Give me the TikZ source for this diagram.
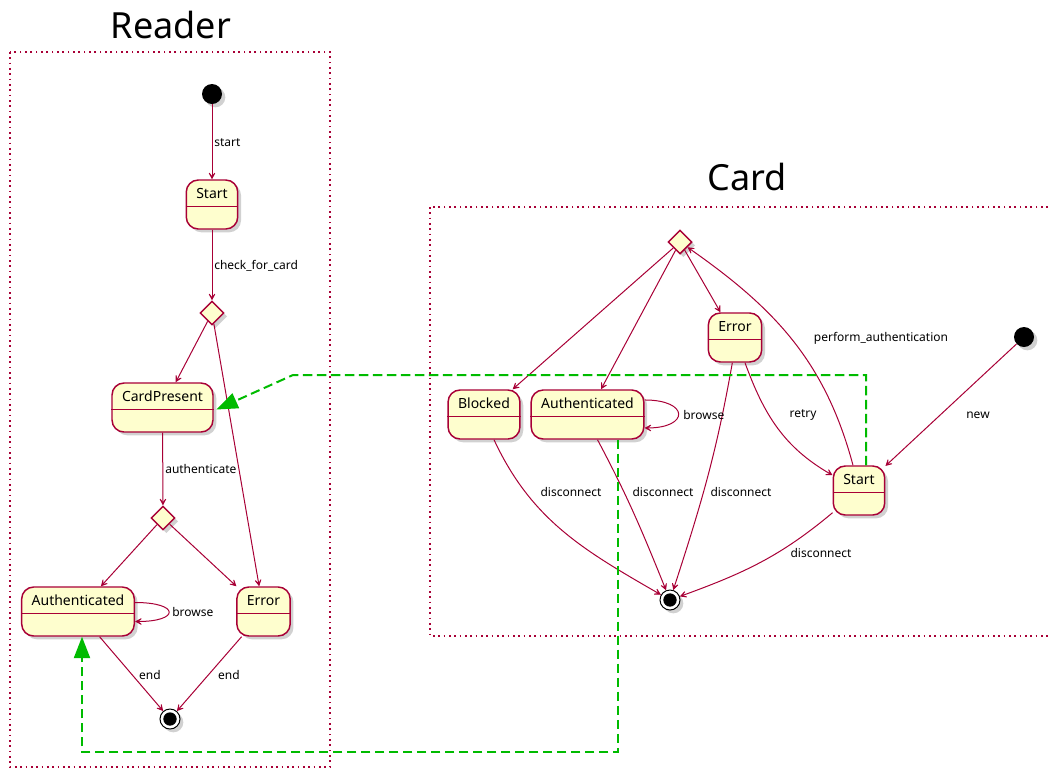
\documentclass[tikz,border=0pt]{standalone}
\usepackage{fontspec}
\setmainfont{Noto Sans}
\usetikzlibrary{arrows.meta,shapes.geometric,shadows}
\definecolor{umlred}{HTML}{A80036}
\definecolor{umlfill}{HTML}{FEFECE}
\definecolor{umlgreen}{HTML}{00BB00}

\begin{document}
\begin{tikzpicture}[x=0.75pt,y=-0.75pt,
	castshadow/.style={drop shadow={shadow xshift=2.5pt,shadow yshift=-2.5pt,opacity=.3,fill=black!60}},
	state/.style={draw=umlred,line width=1.1pt,fill=umlfill,rounded corners=9pt,castshadow,
		font=\fontsize{10.5}{12}\selectfont,inner xsep=7.5pt,inner ysep=3.5pt,
		text height=10pt,text depth=19.75pt},
	choice/.style={diamond,draw=umlred,line width=1.1pt,fill=umlfill,castshadow,inner sep=0pt,minimum size=18pt},
	initst/.style={circle,fill=black,inner sep=0pt,minimum size=15pt,castshadow},
	endst/.style={circle,draw=black,fill=white,line width=.75pt,inner sep=0pt,minimum size=15pt,castshadow,
		path picture={\fill[black] (path picture bounding box.center) circle (5pt);}},
	trans/.style={draw=umlred,line width=.75pt,-{Stealth[length=7.5pt,width=8pt,inset=5pt]}},
	lbl/.style={font=\fontsize{9}{11}\selectfont,inner sep=0pt},
	pkg/.style={draw=umlred,line width=1.1pt,dash pattern=on 1.3pt off 2.7pt},
	link/.style={draw=umlgreen,line width=1.5pt,dash pattern=on 7pt off 3.5pt,-{Triangle[length=16pt,width=12pt]}},
	title/.style={font=\fontsize{27}{32}\selectfont}]
\useasboundingbox (0,0) rectangle (1049,769);

% packages
\draw[pkg] (10,52) rectangle (330,767);
\node[title] (rTitle) at (171,25) {Reader};
\draw[pkg] (430,207) rectangle (1070,636);
\node[title] (cTitle) at (747,177) {Card};

% Reader
\node[initst] (rInit) at (212,94) {};
\node[state] (rStart) at (212,204.5) {Start};
\node[choice] (rDia) at (212,313) {};
\node[state] (rCard) at (162.5,407.5) {CardPresent};
\node[choice] (rDia2) at (163,518) {};
\node[state] (rAuth) at (78,611.5) {Authenticated};
\node[state] (rErr) at (263.5,611.5) {Error};
\node[endst] (rEnd) at (170,719) {};

% Card
\node[choice] (cDia) at (680,242) {};
\node[state] (cBlocked) at (484,414.5) {Blocked};
\node[state] (cAuth) at (587.5,414.5) {Authenticated};
\node[state] (cErr) at (735,337.5) {Error};
\node[state] (cStart) at (859,490.5) {Start};
\node[initst] (cInit) at (1024,337) {};
\node[endst] (cEnd) at (670,600) {};

\foreach \n in {rStart,rCard,rAuth,rErr,cBlocked,cAuth,cErr,cStart}
	\draw[umlred,line width=1.1pt] ([yshift=-20.25pt]\n.north west) -- ([yshift=-20.25pt]\n.north east);

% Reader transitions
\draw[trans] (rInit) -- (rStart);
\draw[trans] (rStart) -- (rDia);
\draw[trans] (rDia) -- (rCard);
\draw[trans] (rDia) -- (rErr);
\draw[trans] (rCard) -- (rDia2);
\draw[trans] (rDia2) -- (rAuth);
\draw[trans] (rDia2) -- (rErr);
\draw[trans] ([yshift=6.75pt]rAuth.east) .. controls +(45,0) and +(45,0) .. ([yshift=-7.5pt]rAuth.east);
\draw[trans] (rAuth) -- (rEnd);
\draw[trans] (rErr) -- (rEnd);
\node[lbl,anchor=west] at (214,143) {start};
\node[lbl,anchor=west] at (214,266) {check\_for\_card};
\node[lbl,anchor=west] at (165,469) {authenticate};
\node[lbl,anchor=west] at (172,612) {browse};
\node[lbl] at (150,675) {end};
\node[lbl] at (229,675) {end};

% Card transitions
\draw[trans] (cDia) -- (cBlocked);
\draw[trans] (cDia) -- (cAuth);
\draw[trans] (cDia) -- (cErr);
\draw[trans] ([yshift=10.9pt]cAuth.east) .. controls +(45,0) and +(45,0) .. ([yshift=-10.1pt]cAuth.east);
\draw[trans] (cInit) -- (cStart);
\draw[trans] ([xshift=-4.5pt]cStart.north) to[out=105,in=-35] (cDia);
\draw[trans] ([xshift=7.5pt]cErr.south) to[out=-70,in=150] (cStart);
\draw[trans] ([xshift=7.5pt]cBlocked.south) to[out=-65,in=150] (cEnd);
\draw[trans] ([xshift=7.5pt]cAuth.south) to[out=-62,in=112] (cEnd);
\draw[trans] ([xshift=-2pt]cErr.south) to[out=-100,in=72] (cEnd);
\draw[trans] (cStart.-140) to[out=-140,in=20] (cEnd);
\node[lbl,anchor=west] at (683,415) {browse};
\node[lbl] at (881,338) {perform\_authentication};
\node[lbl] at (978,415) {new};
\node[lbl] at (803,415) {retry};
\node[lbl] at (571,492) {disconnect};
\node[lbl] at (663,492) {disconnect};
\node[lbl] at (741,492) {disconnect};
\node[lbl] at (821,553) {disconnect};

% links between the two machines
\coordinate (gA) at (293,375);
\coordinate (gB) at (350,752);
\draw[link] ([xshift=5.25pt]cStart.north) |- (gA) -- ([xshift=2pt,yshift=-1.5pt]rCard.east);
\draw[link] ([xshift=22.9pt]cAuth.south) |- (gB) -| ([xshift=3pt]rAuth.south);
\end{tikzpicture}
\end{document}
